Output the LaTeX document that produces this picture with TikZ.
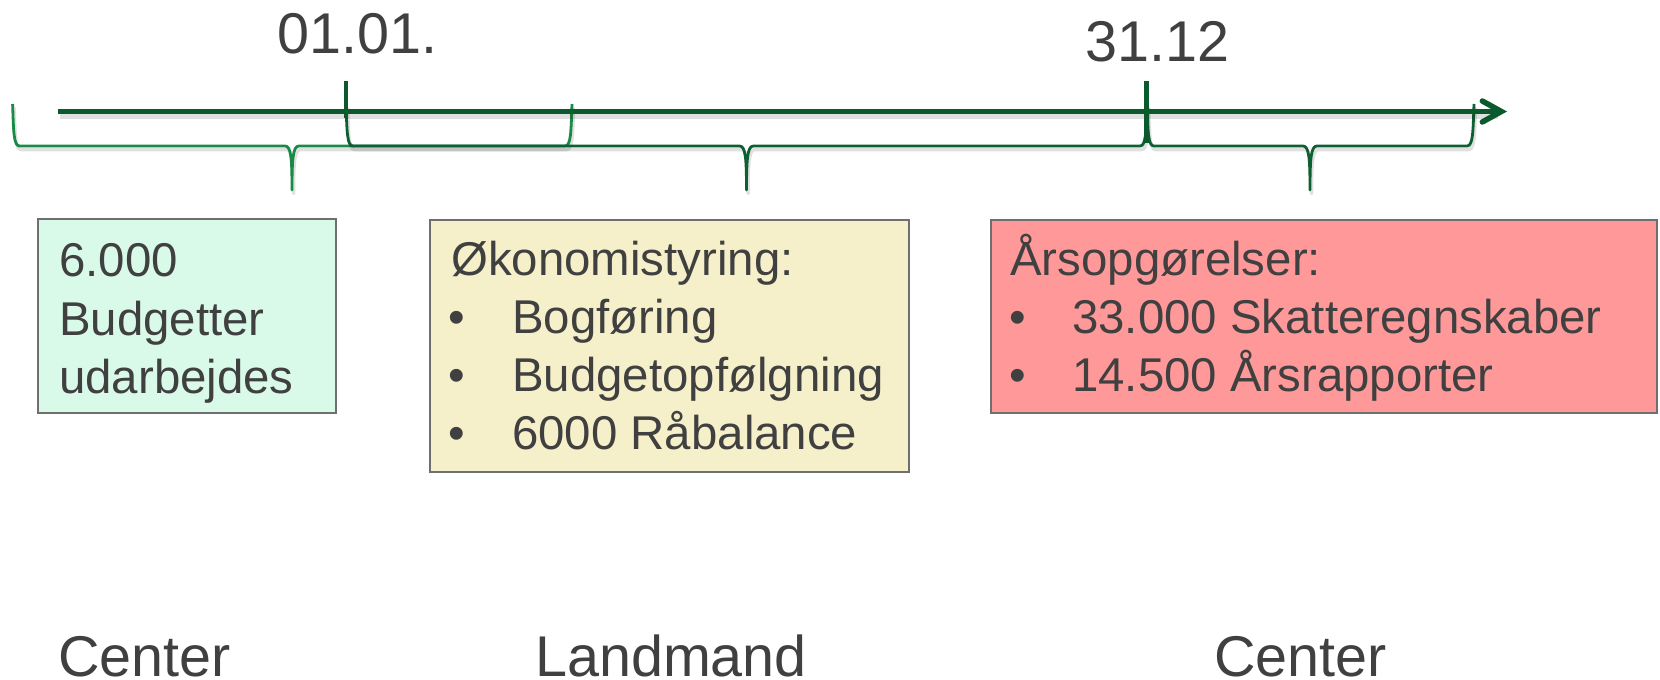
\documentclass[tikz,border=0pt]{standalone}
\usepackage{fontspec}
\setmainfont{Liberation Sans}
\usetikzlibrary{arrows.meta}
\definecolor{txt}{HTML}{404040}
\definecolor{axisgreen}{HTML}{0B5A2E}
\definecolor{braceA}{HTML}{1A8A48}
\definecolor{braceB}{HTML}{0E5F32}
\definecolor{mint}{HTML}{D9F9E9}
\definecolor{cream}{HTML}{F5F0C9}
\definecolor{salmon}{HTML}{FF9999}
\definecolor{boxline}{HTML}{6F6F6F}
\newcommand{\tlbrace}[4]{%
  \draw[bracestyle, black, opacity=0.12, line width=3.5, shift={(1.5,3.5)}] (#1,104) .. controls (#1+1,132) and (#1+1,146) .. (#1+7,146) -- (#3-7,146) .. controls (#3-1,146) and (#3,158) .. (#3,190) .. controls (#3,158) and (#3+1,146) .. (#3+7,146) -- (#2-7,146) .. controls (#2-1,146) and (#2-1,132) .. (#2,104);
  \draw[bracestyle, #4] (#1,104) .. controls (#1+1,132) and (#1+1,146) .. (#1+7,146) -- (#3-7,146) .. controls (#3-1,146) and (#3,158) .. (#3,190) .. controls (#3,158) and (#3+1,146) .. (#3+7,146) -- (#2-7,146) .. controls (#2-1,146) and (#2-1,132) .. (#2,104);
}
\begin{document}
\begin{tikzpicture}[x=1pt,y=-1pt,
  bracestyle/.style={line width=2.8, line join=round},
  bigtext/.style={font=\fontsize{57.5}{69}\selectfont, text=txt, inner sep=0, anchor=base west},
  boxtext/.style={font=\fontsize{47.4}{57}\selectfont, text=txt, inner sep=0, anchor=base west},
  bullettext/.style={font=\fontsize{47.4}{57}\selectfont, text=txt, inner sep=0, anchor=base},
  infobox/.style={draw=boxline, line width=1.5},
  axisline/.style={line width=5, draw=axisgreen},
  tickline/.style={line width=4.6, draw=axisgreen}]
\useasboundingbox (0,0) rectangle (1660,680);
\fill[white] (0,0) rectangle (1660,680);

% braces
\tlbrace{12.6}{572}{292}{braceA}
\tlbrace{346}{1147}{746.5}{braceB}
\tlbrace{1147}{1474}{1310}{braceB}

% axis
\coordinate (axstart) at (58,111.5);
\coordinate (axend) at (1507,111.5);
\draw[line width=5, black, opacity=0.12] (59.5,116) -- (1498,116);
\draw[axisline, -{Straight Barb[length=19, width=21, line width=5.5, line cap=round]}] (axstart) -- (axend);

% ticks
\coordinate (t1a) at (346,81);
\coordinate (t1b) at (346,118);
\coordinate (t2a) at (1146.5,81);
\coordinate (t2b) at (1146.5,143);
\draw[tickline] (t1a) -- (t1b);
\draw[tickline] (t2a) -- (t2b);

% dates
\node[bigtext] (d1) at (277,53) {01.01.};
\node[bigtext] (d2) at (1085,61) {31.12};

% boxes
\draw[infobox, fill=mint] (38,219) rectangle (336,413);
\draw[infobox, fill=cream] (430,220) rectangle (909,472);
\draw[infobox, fill=salmon] (991,220) rectangle (1657,413);

\node[boxtext] (b1l1) at (59,276) {6.000};
\node[boxtext] (b1l2) at (59,335) {Budgetter};
\node[boxtext] (b1l3) at (59,393) {udarbejdes};

\node[boxtext] (b2h) at (451,275) {Økonomistyring:};
\node[bullettext] (b2d1) at (457,333) {•};
\node[boxtext] (b2i1) at (512,333) {Bogføring};
\node[bullettext] (b2d2) at (457,391) {•};
\node[boxtext] (b2i2) at (512,391) {Budgetopfølgning};
\node[bullettext] (b2d3) at (457,449) {•};
\node[boxtext] (b2i3) at (512,449) {6000 Råbalance};

\node[boxtext] (b3h) at (1010,275) {Årsopgørelser:};
\node[bullettext] (b3d1) at (1018,333) {•};
\node[boxtext] (b3i1) at (1072,333) {33.000 Skatteregnskaber};
\node[bullettext] (b3d2) at (1018,391) {•};
\node[boxtext] (b3i2) at (1072,391) {14.500 Årsrapporter};

% bottom labels
\node[bigtext] (c1) at (58,676) {Center};
\node[bigtext] (c2) at (535,676) {Landmand};
\node[bigtext] (c3) at (1214,676) {Center};
\end{tikzpicture}
\end{document}
